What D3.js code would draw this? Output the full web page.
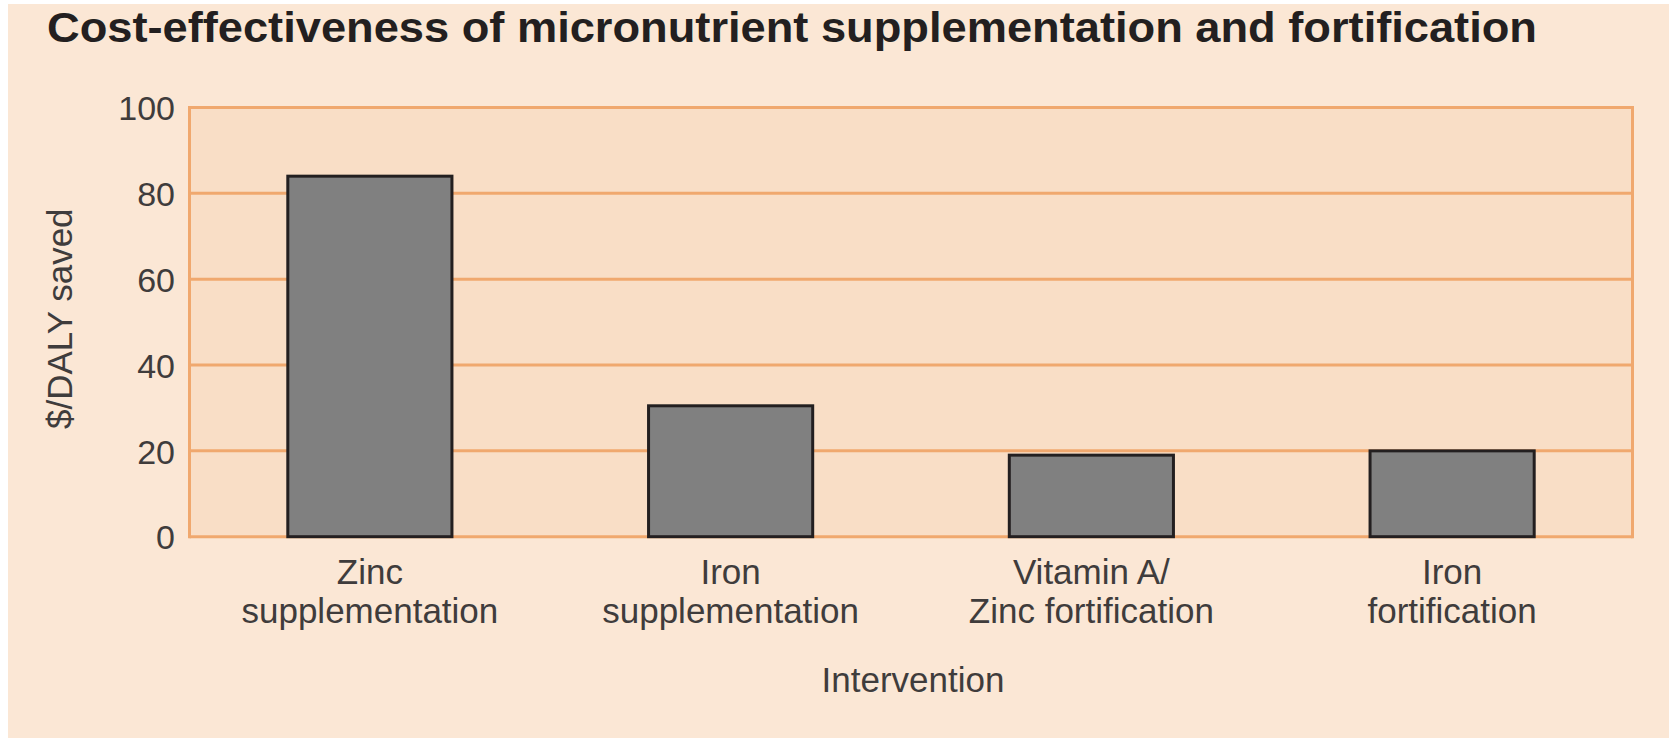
<!DOCTYPE html>
<html>
<head>
<meta charset="utf-8">
<script src="https://cdn.jsdelivr.net/npm/d3@7"></script>
<style>
  html, body { margin: 0; padding: 0; background: #ffffff; }
  svg { display: block; }
</style>
</head>
<body>
<svg id="chart" width="1669" height="738"></svg>
<script>
// Intervention categories (line breaks mark the two-line axis labels)
const categories = [
  "Zinc\nsupplementation",
  "Iron\nsupplementation",
  "Vitamin A/\nZinc fortification",
  "Iron\nfortification"
];
// Cost per DALY saved, US$
const costPerDaly = [84, 30.5, 19, 20];
// Y-axis ticks
const yTicks = [0, 20, 40, 60, 80, 100];

const titleText = "Cost-effectiveness of micronutrient supplementation and fortification";
const yTitle = "$/DALY saved";
const xTitle = "Intervention";

const W = 1669, H = 738;
const plot = { left: 189.5, right: 1632.5, top: 107.5, bottom: 536.7 };

const colors = {
  page: "#fbe7d5",
  plotBg: "#f9dec6",
  grid: "#f0a86e",
  barFill: "#808080",
  barStroke: "#231f20",
  title: "#231f20",
  label: "#3f3c3c"
};

const svg = d3.select("#chart");

// page background
svg.append("rect")
  .attr("x", 8).attr("y", 4)
  .attr("width", W - 8).attr("height", H - 4)
  .attr("fill", colors.page);

const x = d3.scaleBand()
  .domain(categories)
  .range([plot.left, plot.right])
  .paddingInner(0.545)
  .paddingOuter(0.2725);

const y = d3.scaleLinear()
  .domain([0, 100])
  .range([plot.bottom, plot.top]);

// plot area
svg.append("rect")
  .attr("x", plot.left).attr("y", plot.top)
  .attr("width", plot.right - plot.left)
  .attr("height", plot.bottom - plot.top)
  .attr("fill", colors.plotBg);

// horizontal grid lines (including the frame top and bottom)
svg.append("g")
  .selectAll("line")
  .data(yTicks)
  .join("line")
  .attr("x1", plot.left).attr("x2", plot.right)
  .attr("y1", d => y(d)).attr("y2", d => y(d))
  .attr("stroke", colors.grid)
  .attr("stroke-width", 3);

// left and right frame edges
svg.append("g")
  .selectAll("line")
  .data([plot.left, plot.right])
  .join("line")
  .attr("x1", d => d).attr("x2", d => d)
  .attr("y1", y(100) - 1.5).attr("y2", y(0) + 1.5)
  .attr("stroke", colors.grid)
  .attr("stroke-width", 3);

// bars
svg.append("g")
  .selectAll("rect")
  .data(categories.map((c, i) => ({ c, v: costPerDaly[i] })))
  .join("rect")
  .attr("x", d => x(d.c))
  .attr("width", x.bandwidth())
  .attr("y", d => y(d.v))
  .attr("height", d => y(0) - y(d.v))
  .attr("fill", colors.barFill)
  .attr("stroke", colors.barStroke)
  .attr("stroke-width", 3);

// y-axis tick labels
const yAxis = svg.append("g")
  .attr("transform", `translate(${plot.left},0)`)
  .call(d3.axisLeft(y).tickValues(yTicks).tickSize(0).tickPadding(14.5));
yAxis.select(".domain").remove();
yAxis.selectAll("text")
  .attr("dy", "0.36em")
  .attr("fill", colors.label)
  .style("font-family", "'Liberation Sans', Arial, sans-serif")
  .style("font-size", "34px");

// x-axis category labels (two lines each)
const xLabels = svg.append("g")
  .selectAll("text")
  .data(categories)
  .join("text")
  .attr("x", d => x(d) + x.bandwidth() / 2)
  .attr("y", 584.3)
  .attr("text-anchor", "middle")
  .attr("fill", colors.label)
  .style("font-family", "'Liberation Sans', Arial, sans-serif")
  .style("font-size", "35px");
xLabels.selectAll("tspan")
  .data(d => d.split("\n").map(s => ({ s, cx: x(d) + x.bandwidth() / 2 })))
  .join("tspan")
  .attr("x", t => t.cx)
  .attr("dy", (t, i) => i === 0 ? 0 : 39)
  .text(t => t.s);

// x-axis title
svg.append("text")
  .attr("x", (plot.left + plot.right) / 2 + 2)
  .attr("y", 692)
  .attr("text-anchor", "middle")
  .attr("fill", colors.label)
  .style("font-family", "'Liberation Sans', Arial, sans-serif")
  .style("font-size", "35px")
  .text(xTitle);

// y-axis title
svg.append("text")
  .attr("transform", "translate(71.5,318.7) rotate(-90)")
  .attr("text-anchor", "middle")
  .attr("fill", colors.label)
  .style("font-family", "'Liberation Sans', Arial, sans-serif")
  .style("font-size", "35px")
  .text(yTitle);

// chart title
const title = svg.append("text")
  .attr("x", 47)
  .attr("y", 42.3)
  .attr("fill", colors.title)
  .style("font-family", "'Liberation Sans', Arial, sans-serif")
  .style("font-weight", "bold")
  .style("font-size", "42px")
  .text(titleText);
const targetTitleWidth = 1490;
const tw = title.node().getComputedTextLength();
if (Math.abs(tw - targetTitleWidth) > 4) {
  title.attr("textLength", targetTitleWidth).attr("lengthAdjust", "spacingAndGlyphs");
}
</script>
</body>
</html>
